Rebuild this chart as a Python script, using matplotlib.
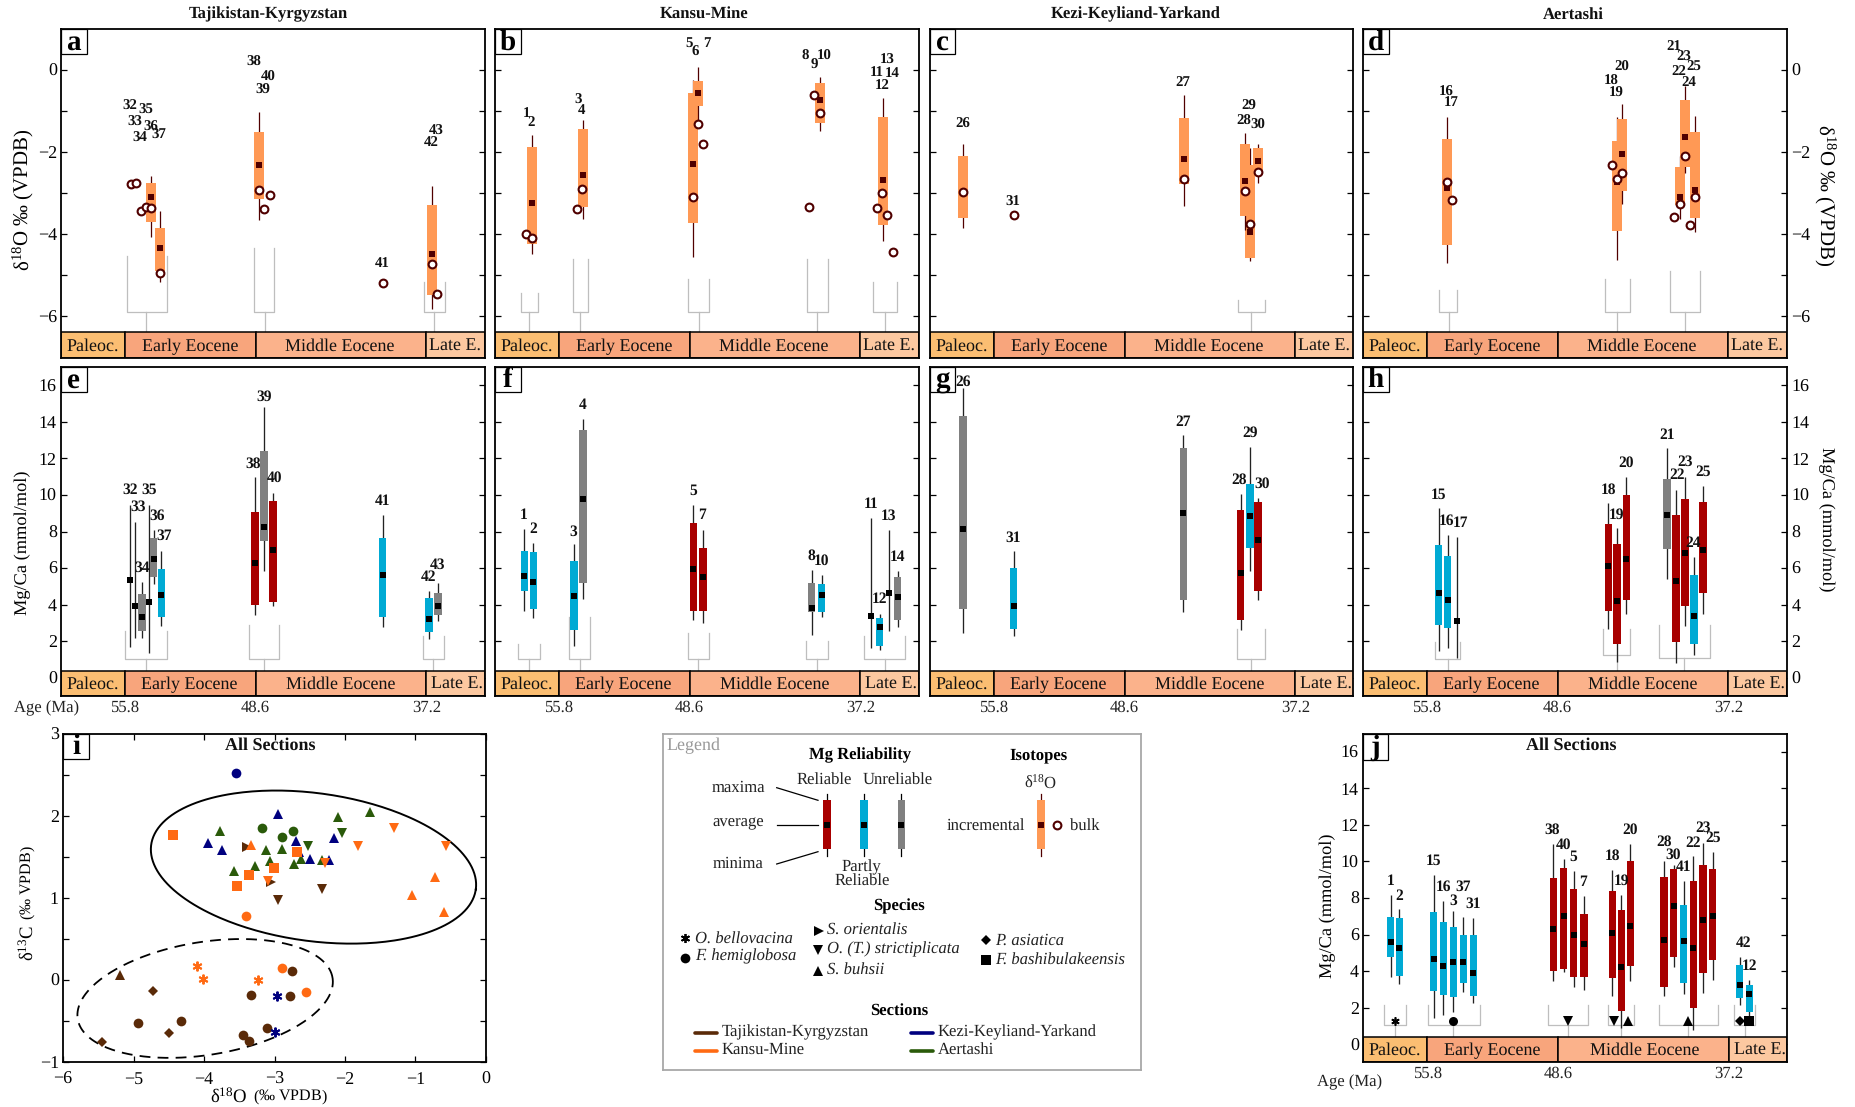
"""Eocene oyster d18O and Mg/Ca by section, d13C-d18O crossplot, all sections Mg/Ca."""
import numpy as np
import matplotlib
matplotlib.use('Agg')
import matplotlib.pyplot as plt
from matplotlib.patches import Rectangle

plt.rcParams['font.family'] = ['Liberation Serif', 'DejaVu Sans']
plt.rcParams['mathtext.fontset'] = 'custom'
plt.rcParams['mathtext.rm'] = 'Liberation Serif'
plt.rcParams['mathtext.it'] = 'Liberation Serif:italic'
plt.rcParams['mathtext.bf'] = 'Liberation Serif:bold'
plt.rcParams['text.hinting'] = 'no_hinting'

# ── data ──────────────────────────────────────────────────────────────────────
# x is the sample's place along the stratigraphic strip of its panel
# isotope rows: pos, minimum, box low, mean, box high, maximum
ISO_A = [(90, -4.08, -3.72, -3.10, -2.75, -2.59),
         (99, -5.16, -4.91, -4.34, -3.86, -3.44),
         (198, -3.65, -3.15, -2.32, -1.52, -1.03),
         (370.7, -5.83, -5.48, -4.48, -3.29, -2.83)]
ISO_B = [(36.7, -4.49, -4.25, -3.24, -1.88, -1.60),
         (87.7, -3.64, -3.35, -2.56, -1.44, -1.22),
         (197.7, -4.57, -3.74, -2.29, -0.56, -0.25),
         (202.7, -1.32, -0.88, -0.57, -0.28, 0.06),
         (325, -1.49, -1.31, -0.74, -0.33, -0.19),
         (387.7, -4.18, -3.79, -2.68, -1.15, -0.70)]
ISO_C = [(33.3, -3.85, -3.62, -2.97, -2.10, -1.82),
         (253.7, -3.33, -2.79, -2.17, -1.17, -0.62),
         (319.7, -4.65, -4.59, -3.95, -2.31, -1.91),
         (314.7, -3.91, -3.56, -2.71, -1.80, -1.54),
         (328.3, -2.76, -2.56, -2.22, -1.91, -1.82)]
ISO_D = [(84.3, -4.71, -4.27, -2.89, -1.69, -1.15),
         (254, -4.64, -3.94, -2.73, -1.74, -1.15),
         (259.3, -3.27, -2.95, -2.05, -1.20, -0.84),
         (316.7, -3.63, -3.29, -3.10, -2.38, -2.11),
         (321.7, -2.52, -2.37, -1.64, -0.74, -0.39),
         (332, -3.96, -3.62, -2.93, -1.52, -1.13)]

BULK_A = [(69.7, -2.79), (74.7, -2.755), (80, -3.44), (84.7, -3.34), (90, -3.36), (99, -4.95),
          (198, -2.94), (208.7, -3.06), (203.3, -3.40), (322.3, -5.19), (370.7, -4.72), (375.7, -5.45)]
BULK_B = [(31.3, -4.0), (36.7, -4.09), (82.3, -3.40), (87.3, -2.90), (197.7, -3.10), (202.7, -1.32),
          (207.7, -1.81), (314.3, -3.35), (319.3, -0.61), (324.7, -1.06), (382.3, -3.37),
          (387.3, -3.0), (392.3, -3.53), (397.7, -4.44)]
BULK_C = [(33.3, -2.97), (84.3, -3.55), (253.7, -2.65), (314.7, -2.95), (319.7, -3.75), (328.3, -2.50)]
BULK_D = [(84.3, -2.74), (89.3, -3.18), (249, -2.31), (254, -2.65), (259.3, -2.52), (311.3, -3.58),
          (316.7, -3.28), (321.7, -2.10), (326.7, -3.78), (332, -3.11)]

# Mg/Ca rows: pos, minimum, box low, mean, box high, maximum, reliability
# R reliable, P partly reliable, U unreliable, None for a single specimen range
MG_E = [(69, 1.69, None, 5.35, None, 9.47, None), (74, 2.15, None, 3.93, None, 8.54, None),
        (81, 2.20, 2.53, 3.31, 4.57, 5.24, 'U'), (88, 1.33, None, 4.13, None, 9.47, None),
        (92.7, 5.15, 5.52, 6.52, 7.65, 8.07, 'U'), (100.3, 2.82, 3.33, 4.50, 5.94, 6.96, 'P'),
        (194, 3.42, 3.97, 6.28, 9.09, 10.97, 'R'), (203, 5.85, 7.49, 8.23, 12.39, 14.81, 'U'),
        (212, 3.93, 4.13, 6.99, 9.65, 10.13, 'R'), (321.7, 2.75, 3.31, 5.63, 7.63, 8.93, 'P'),
        (368, 2.13, 2.51, 3.24, 4.35, 4.77, 'P'), (377, 3.08, 3.42, 3.95, 4.62, 5.17, 'U')]
MG_F = [(29.3, 3.66, 4.75, 5.55, 6.96, 8.14, 'P'), (38.3, 3.28, 3.75, 5.24, 6.87, 7.38, 'P'),
        (79, 1.74, 2.60, 4.48, 6.41, 7.29, 'P'), (88, 4.31, 5.19, 9.78, 13.56, 14.18, 'U'),
        (198.3, 3.15, 3.66, 5.97, 8.47, 9.47, 'R'), (208, 2.97, 3.66, 5.50, 7.09, 8.10, 'R'),
        (316.7, 2.35, 3.62, 3.79, 5.19, 5.92, 'U'), (326.7, 3.33, 3.62, 4.53, 5.15, 5.63, 'P'),
        (376, 1.64, None, 3.37, None, 8.74, None), (384.7, 1.54, 1.74, 2.76, 3.26, 3.51, 'P'),
        (393.7, 2.56, None, 4.66, None, 8.09, None), (402.7, 2.75, 3.17, 4.44, 5.52, 5.85, 'U')]
MG_G = [(33, 2.46, 3.75, 8.14, 14.3, 15.87, 'U'), (83.7, 2.29, 2.67, 3.90, 5.99, 6.94, 'P'),
        (253.3, 3.57, 4.24, 9.0, 12.59, 13.28, 'U'), (310.7, 2.62, 3.15, 5.74, 9.16, 10.04, 'R'),
        (320, 5.85, 7.12, 8.84, 10.62, 12.63, 'P'), (328, 4.24, 4.75, 7.56, 9.62, 9.82, 'R')]
MG_H = [(75.7, 1.45, 2.87, 4.64, 7.27, 9.27, 'P'), (84.7, 1.62, 2.73, 4.26, 6.68, 7.83, 'P'),
        (93.7, 1.07, None, 3.09, None, 7.71, None), (245.3, 2.64, 3.66, 6.10, 8.40, 9.55, 'R'),
        (254, 0.87, 1.82, 4.21, 7.32, 8.18, 'R'), (263.3, 3.49, 4.26, 6.50, 10.02, 10.99, 'R'),
        (304, 5.39, 7.03, 8.91, 10.89, 12.57, 'U'), (313, 0.80, 1.96, 5.30, 8.93, 10.29, 'R'),
        (322, 2.82, 3.91, 6.85, 9.80, 11.0, 'R'), (331, 1.22, 1.82, 3.35, 5.63, 6.59, 'P'),
        (340, 3.49, 4.61, 7.01, 9.60, 10.51, 'R')]
MG_J = [(26, 3.66, 4.75, 5.57, 6.97, 8.15, 'P'), (34.3, 3.28, 3.75, 5.26, 6.88, 7.39, 'P'),
        (66.7, 1.45, 2.89, 4.64, 7.26, 9.26, 'P'), (75.7, 1.62, 2.71, 4.26, 6.68, 7.83, 'P'),
        (85, 1.75, 2.60, 4.49, 6.42, 7.28, 'P'), (94.3, 2.84, 3.35, 4.49, 5.95, 6.97, 'P'),
        (103.7, 2.27, 2.66, 3.88, 5.97, 6.92, 'P'), (179, 3.44, 3.99, 6.28, 9.08, 10.96, 'R'),
        (188.7, 3.95, 4.13, 6.99, 9.65, 10.12, 'R'), (198.3, 3.15, 3.66, 5.99, 8.48, 9.48, 'R'),
        (208, 2.98, 3.68, 5.51, 7.10, 8.12, 'R'), (234.7, 2.64, 3.64, 6.10, 8.37, 9.54, 'R'),
        (243, 0.87, 1.80, 4.20, 7.32, 8.17, 'R'), (251.7, 3.48, 4.26, 6.48, 10.01, 10.98, 'R'),
        (283.3, 2.62, 3.13, 5.71, 9.14, 10.01, 'R'), (292.3, 4.22, 4.75, 7.55, 9.59, 9.83, 'R'),
        (301.7, 2.75, 3.33, 5.64, 7.63, 8.92, 'P'), (310.7, 0.80, 1.96, 5.28, 8.92, 10.30, 'R'),
        (320, 2.80, 3.91, 6.82, 9.79, 11.01, 'R'), (329, 3.49, 4.59, 6.99, 9.57, 10.50, 'R'),
        (354.7, 2.13, 2.51, 3.24, 4.35, 4.77, 'P'), (363.7, 1.55, 1.78, 2.77, 3.24, 3.51, 'P')]

LABELS_A = [('32', 69, -0.89), ('35', 84.7, -0.99), ('33', 74.3, -1.29), ('36', 89.7, -1.39),
            ('34', 79.3, -1.67), ('37', 98, -1.59), ('38', 192.7, 0.18), ('40', 207.7, -0.19),
            ('39', 202.3, -0.49), ('43', 375, -1.50), ('42', 370, -1.77), ('41', 321.3, -4.71)]
LABELS_B = [('1', 31.7, -1.06), ('2', 36, -1.29), ('3', 82.7, -0.74), ('4', 86.7, -0.98),
            ('5', 194, 0.64), ('6', 200.7, 0.42), ('7', 211.7, 0.65), ('8', 310.7, 0.32),
            ('9', 319, 0.11), ('10', 329, 0.33), ('13', 392, 0.23), ('11', 381.7, -0.07),
            ('14', 397.3, -0.08), ('12', 387, -0.38)]
LABELS_C = [('26', 32.7, -1.33), ('31', 83.3, -3.23), ('27', 252.7, -0.31), ('29', 319, -0.88),
            ('28', 313.7, -1.26), ('30', 327.7, -1.35)]
LABELS_D = [('16', 83.7, -0.56), ('17', 88.7, -0.79), ('20', 258.7, 0.05), ('18', 248.7, -0.28),
            ('19', 253.7, -0.58), ('21', 310.7, 0.57), ('23', 321, 0.30), ('22', 315.7, -0.03),
            ('25', 331, 0.05), ('24', 326, -0.31)]
LABELS_E = [('32', 69, 10.26), ('33', 77.3, 9.33), ('34', 81, 5.99), ('35', 87.7, 10.26),
            ('36', 95.7, 8.84), ('37', 103.3, 7.74), ('38', 192.3, 11.72), ('39', 203, 15.34),
            ('40', 213.7, 10.91), ('41', 321.3, 9.64), ('42', 367.7, 5.48), ('43', 377, 6.16)]
LABELS_F = [('1', 29, 8.87), ('2', 38.3, 8.11), ('3', 78.7, 8.0), ('4', 87.7, 14.94),
            ('5', 198.3, 10.24), ('7', 207.3, 8.87), ('8', 316.3, 6.68), ('10', 327, 6.37),
            ('11', 375.7, 9.47), ('12', 384.7, 4.28), ('13', 393.7, 8.87), ('14', 402.3, 6.57)]
LABELS_G = [('26', 33, 16.2), ('31', 83.3, 7.67), ('27', 252.7, 14.01), ('29', 320, 13.37),
            ('28', 309.3, 10.80), ('30', 332, 10.58)]
LABELS_H = [('15', 75.7, 10.02), ('16', 83, 8.58), ('17', 97.3, 8.45), ('18', 245.3, 10.29),
            ('19', 254, 8.93), ('20', 263, 11.77), ('21', 303.7, 13.28), ('22', 314.3, 11.06),
            ('23', 322, 11.82), ('24', 330.3, 7.34), ('25', 339.7, 11.26)]
LABELS_J = [('1', 25.7, 8.92), ('2', 34, 8.10), ('15', 66.7, 10.01), ('16', 76, 8.59),
            ('37', 94.3, 8.59), ('3', 85, 7.82), ('31', 103.3, 7.66), ('38', 177.7, 11.70),
            ('40', 188.7, 10.88), ('5', 198, 10.23), ('7', 207.3, 8.86), ('18', 234.7, 10.28),
            ('19', 243, 8.92), ('20', 251.3, 11.70), ('28', 283.3, 11.05), ('30', 292.3, 10.34),
            ('41', 301.3, 9.68), ('22', 310.7, 10.98), ('23', 320, 11.81), ('25', 329, 11.27),
            ('42', 358.3, 5.53), ('12', 363.3, 4.27)]

# brackets grouping samples of one level: left, right, stem, arm top, base
BRACKET_A = [(66.3, 106, 85, -4.54, -5.91), (192.7, 213.3, 203.7, -4.34, -5.91), (362.7, 383.7, 373, -5.17, -5.91)]
BRACKET_B = [(26.3, 42.7, 34.3, -5.43, -5.91), (78, 92.7, 85, -4.60, -5.91), (193.3, 214.3, 203.7, -5.10, -5.91),
             (312.3, 332.7, 322.3, -4.60, -5.91), (378, 402.3, 390, -5.17, -5.91)]
BRACKET_C = [(308, 334.7, 321.3, -5.62, -5.91)]
BRACKET_D = [(75.7, 93.7, 85.7, -5.36, -5.91), (241.7, 266.7, 254.3, -5.10, -5.91), (307, 337, 322, -4.89, -5.91)]
BRACKET_E = [(64.3, 106.3, 84.7, 2.53, 1.02), (188.3, 218, 203, 2.86, 1.02), (362, 383.3, 372.3, 2.31, 1.02)]
BRACKET_F = [(23.3, 44.7, 34, 1.87, 1.02), (74.3, 95.3, 84.7, 3.31, 1.02), (192.7, 213.7, 203.3, 2.42, 1.02),
             (311, 332.7, 322, 2.0, 1.02), (369, 410.3, 389.7, 2.31, 1.02)]
BRACKET_G = [(307, 334.7, 320.7, 2.64, 1.02)]
BRACKET_H = [(72.3, 97.3, 84.7, 1.98, 1.02), (240.3, 267.3, 254, 2.69, 1.25), (295.7, 347, 321, 2.86, 1.07)]
BRACKET_J = [(20, 40, 30, 2.15, 1.05), (60.7, 109.7, 85, 2.15, 1.05), (174.3, 211.3, 193, 2.15, 1.05),
             (230.3, 255.3, 243, 2.15, 1.05), (278.3, 333.7, 306.3, 2.15, 1.05), (349, 369.3, 359.3, 2.15, 1.05)]
SPECIES_J = [(30, '*'), (85, 'o'), (193, 'v'), (236, 'v'), (249, '^'), (306.3, '^'), (354.7, 'D'), (363.7, 's')]

EPOCHS = ['Paleoc.', 'Early Eocene', 'Middle Eocene', 'Late E.']
EPOCH_EDGES = [0, 64, 194.7, 365.3, 424]
EPOCH_EDGES_J = [0, 60.3, 183.7, 344, 399]
EPOCH_TEXT_TOP = [32, 129, 279, 394]
EPOCH_TEXT_MG = [32, 128, 280, 396]
EPOCH_TEXT_J = [30, 121.3, 264.7, 374]
AGES = ['55.8', '48.6', '37.2']

# crossplot i: d18O, d13C per section
TK_CIRCLE = [(-2.75, 0.11), (-3.34, -0.18), (-2.78, -0.20), (-4.94, -0.52), (-4.33, -0.50), (-3.10, -0.58),
             (-3.44, -0.67), (-3.36, -0.74)]
TK_DIAMOND = [(-4.72, -0.14), (-4.49, -0.65), (-5.45, -0.75)]
TK_RIGHT = [(-3.39, 1.62), (-3.05, 1.19)]
TK_DOWN = [(-2.95, 0.98), (-2.33, 1.11)]
TK_UP = [(-5.19, 0.06)]
KM_SQUARE = [(-4.44, 1.77), (-3.53, 1.15), (-3.36, 1.28), (-3.01, 1.36), (-2.68, 1.56)]
KM_UP = [(-3.34, 1.65), (-1.05, 1.04), (-0.73, 1.26), (-0.60, 0.83)]
KM_DOWN = [(-3.09, 1.21), (-2.28, 1.43), (-1.81, 1.63), (-1.31, 1.85), (-0.57, 1.63)]
KM_CIRCLE = [(-3.40, 0.78), (-2.90, 0.15), (-2.56, -0.15)]
KM_STAR = [(-4.10, 0.17), (-4.01, 0.01), (-3.24, 0.0)]
KK_CIRCLE = [(-3.55, 2.53)]
KK_UP = [(-3.95, 1.67), (-3.75, 1.58), (-2.95, 2.02), (-2.70, 1.69), (-2.65, 1.56), (-2.50, 1.47), (-2.23, 1.46),
         (-2.15, 1.73)]
KK_STAR = [(-2.97, -0.19), (-3.0, -0.63)]
AE_UP = [(-3.78, 1.82), (-3.58, 1.33), (-3.28, 1.39), (-3.12, 1.59), (-3.07, 1.45), (-2.90, 1.60), (-2.73, 1.42),
         (-2.63, 1.48), (-2.32, 1.46), (-2.10, 1.99), (-1.64, 2.05)]
AE_CIRCLE = [(-3.18, 1.85), (-2.89, 1.74), (-2.74, 1.82)]
AE_DOWN = [(-2.52, 1.64), (-2.04, 1.79)]

# ── style ─────────────────────────────────────────────────────────────────────
W, H = 1855, 1107
ORANGE_BAR = '#FF9955'
MAROON = '#500000'
REL_COLORS = {'R': '#A80000', 'P': '#00AAD4', 'U': '#808080'}
EPOCH_COLORS = ['#FBBE72', '#F8A57C', '#FBB28B', '#FCC8A0']
BROWN, ORANGE, NAVY, GREEN = '#5A2A08', '#FF6A13', '#00007F', '#2A5A0A'
BRACKET_GREY = '#BEBEBE'
BASE_FS = 13

fig = plt.figure(figsize=(W / 100, H / 100), dpi=100)


def ftext(px, py, s, **kw):
    kw.setdefault('ha', 'center')
    kw.setdefault('va', 'center')
    kw.setdefault('fontsize', BASE_FS)
    fig.text(px / W, 1 - py / H, s, **kw)


def make_axes(left, right, top, bottom, ylim, xlim=None):
    ax = fig.add_axes([left / W, 1 - bottom / H, (right - left) / W, (bottom - top) / H])
    ax.set_xlim(xlim if xlim else (0, right - left))
    ax.set_ylim(*ylim)
    for s in ax.spines.values():
        s.set_linewidth(1.3)
        s.set_zorder(6)
    ax.tick_params(direction='in', length=4.5, width=0.9, left=True, right=True, labelsize=BASE_FS, pad=3)
    ax.set_xticks([])
    return ax


def panel_letter(ax, letter, box_w, box_h):
    ax.add_patch(Rectangle((0, 1 - box_h), box_w, box_h, transform=ax.transAxes, fc='white', ec='black',
                           lw=0.9, zorder=7))
    ax.text(box_w / 2, 1 - box_h / 2 - 0.003, letter, transform=ax.transAxes, ha='center', va='center',
            fontsize=21, fontweight='bold', zorder=8)


def epoch_strip(ax, edges, centers, strip_top, strip_bottom):
    for i, name in enumerate(EPOCHS):
        ax.add_patch(Rectangle((edges[i], strip_bottom), edges[i + 1] - edges[i], strip_top - strip_bottom,
                               fc=EPOCH_COLORS[i], ec='black', lw=1.1, zorder=4))
        ax.annotate(name, (centers[i], (strip_top + strip_bottom) / 2), xytext=(0, -1), textcoords='offset points',
                    ha='center', va='center', fontsize=BASE_FS, zorder=5, color='#111111')


def brackets(ax, rows, stem_bottom):
    for l, r, stem, arm, base in rows:
        ax.plot([l, l, r, r], [arm, base, base, arm], color=BRACKET_GREY, lw=0.9, zorder=1)
        ax.plot([stem, stem], [base, stem_bottom], color=BRACKET_GREY, lw=0.9, zorder=1)


def sample_labels(ax, rows, fs):
    for s, x, y in rows:
        ax.text(x, y, s, ha='center', va='center', fontsize=fs, fontweight='bold', zorder=5, color='#111111')


def iso_panel(ax, rows, bulk, labels):
    z = 2
    for pos, lo, blo, mean, bhi, hi in rows:
        ax.vlines(pos, lo, hi, color=MAROON, lw=0.9, zorder=z)
        ax.bar(pos, bhi - blo, bottom=blo, width=10.3, color=ORANGE_BAR, zorder=z + 0.1)
        z += 0.2
    ax.plot([r[0] for r in rows], [r[3] for r in rows], 's', color=MAROON, ms=4.7, mew=0, zorder=3.5)
    ax.plot([b[0] for b in bulk], [b[1] for b in bulk], 'o', mfc='white', mec=MAROON, mew=1.5, ms=5.6, zorder=3.6)
    sample_labels(ax, labels, 10.7)


def mg_panel(ax, rows, labels, width=7.2, fs=11.2):
    z = 2
    for pos, lo, blo, mean, bhi, hi, rel in rows:
        ax.vlines(pos, lo, hi, color='#222222', lw=0.95, zorder=z)
        if rel is not None:
            ax.bar(pos, bhi - blo, bottom=blo, width=width, color=REL_COLORS[rel], zorder=z + 0.1)
        z += 0.05
    ax.plot([r[0] for r in rows], [r[3] for r in rows], 's', color='black', ms=4.7, mew=0, zorder=3.5)
    sample_labels(ax, labels, fs)


# ── panels a-h ────────────────────────────────────────────────────────────────
COLS = [(61, 485), (495, 919), (930, 1353), (1363, 1787)]
ISO_ROWS = [(ISO_A, BULK_A, LABELS_A, BRACKET_A, 'a'), (ISO_B, BULK_B, LABELS_B, BRACKET_B, 'b'),
            (ISO_C, BULK_C, LABELS_C, BRACKET_C, 'c'), (ISO_D, BULK_D, LABELS_D, BRACKET_D, 'd')]
MG_ROWS = [(MG_E, LABELS_E, BRACKET_E, 'e'), (MG_F, LABELS_F, BRACKET_F, 'f'),
           (MG_G, LABELS_G, BRACKET_G, 'g'), (MG_H, LABELS_H, BRACKET_H, 'h')]
TITLES = [('Tajikistan-Kyrgyzstan', 268), ('Kansu-Mine', 703.7), ('Kezi-Keyliand-Yarkand', 1136), ('Aertashi', 1573)]

for i, (left, right) in enumerate(COLS):
    rows, bulk, labels, brk, letter = ISO_ROWS[i]
    ax = make_axes(left, right, 29, 358, (-7.02, 0.99))
    yt = [0, -1, -2, -3, -4, -5, -6]
    ax.set_yticks(yt)
    ax.set_yticklabels([f'{v:d}'.replace('-', '\u2212') if v % 2 == 0 else '' for v in yt])
    ax.tick_params(labelleft=(i == 0), labelright=(i == 3))
    brackets(ax, brk, -6.39)
    iso_panel(ax, rows, bulk, labels)
    epoch_strip(ax, EPOCH_EDGES, EPOCH_TEXT_TOP, -6.39, -7.02)
    panel_letter(ax, letter, 25.5 / (right - left), 25 / 329)
    ftext(TITLES[i][1], 14.7, TITLES[i][0], fontsize=12, fontweight='bold', color='#111111')

    rows, labels, brk, letter = MG_ROWS[i]
    ax = make_axes(left, right, 367, 696, (-1, 17))
    yt = list(range(0, 17, 2))
    ax.set_yticks(yt)
    ax.set_yticklabels([str(v) for v in yt])
    ax.tick_params(labelleft=(i == 0), labelright=(i == 3))
    brackets(ax, brk, 0.38)
    mg_panel(ax, rows, labels)
    epoch_strip(ax, EPOCH_EDGES, EPOCH_TEXT_MG, 0.38, -1)
    panel_letter(ax, letter, 25.5 / (right - left), 25 / 329)
    for age, e in zip(AGES, EPOCH_EDGES[1:4]):
        ftext(left + e, 708, age, fontsize=12, color='#222222')

D18O_LABEL = '\u03b4$^{18}$O $\\mathit{\u2030}$ (VPDB)'
MGCA_LABEL = 'Mg/Ca (mmol/mol)'
ftext(47, 708, 'Age (Ma)', fontsize=12, color='#222222')
ftext(23, 200, D18O_LABEL, rotation=90, fontsize=15)
ftext(1825, 195, D18O_LABEL, rotation=270, fontsize=15)
ftext(23, 543, MGCA_LABEL, rotation=90, fontsize=13.2)
ftext(1826, 519, MGCA_LABEL, rotation=270, fontsize=13.2)

# ── panel i ───────────────────────────────────────────────────────────────────
ax = make_axes(63, 486, 734, 1062, (-1, 3), xlim=(-6, 0))
ax.set_xticks(range(-6, 1))
ax.set_xticklabels(['\u22126', '\u22125', '\u22124', '\u22123', '\u22122', '\u22121', '0'])
ax.set_yticks(np.arange(-1, 3.01, 0.5))
ax.set_yticklabels(['\u22121', '', '0', '', '1', '', '2', '', '3'])
ax.tick_params(top=True, bottom=True)
ax.tick_params(axis='x', pad=6.5)

PX_X, PX_Y = 70.57, 82.08  # pixels per data unit, for ellipses that tilt on screen


def ellipse(ax, cx, cy, a, b, deg, **kw):
    t = np.linspace(0, 2 * np.pi, 300)
    th = np.radians(deg)
    ax.plot(cx + (a * np.cos(t) * np.cos(th) - b * np.sin(t) * np.sin(th)) / PX_X,
            cy + (a * np.cos(t) * np.sin(th) + b * np.sin(t) * np.cos(th)) / PX_Y, color='black', zorder=2, **kw)


ellipse(ax, -2.447, 1.377, 164, 74, -7.8, lw=1.4)
ellipse(ax, -3.984, -0.225, 129.2, 56.5, 9.2, lw=1.3, ls=(0, (6, 4)))

SCATTER = [(TK_CIRCLE, 'o', BROWN), (TK_DIAMOND, 'D', BROWN), (TK_RIGHT, '>', BROWN), (TK_DOWN, 'v', BROWN),
           (TK_UP, '^', BROWN), (AE_UP, '^', GREEN), (AE_CIRCLE, 'o', GREEN), (AE_DOWN, 'v', GREEN),
           (KK_CIRCLE, 'o', NAVY), (KK_UP, '^', NAVY), (KK_STAR, '*', NAVY), (KM_SQUARE, 's', ORANGE),
           (KM_UP, '^', ORANGE), (KM_DOWN, 'v', ORANGE), (KM_CIRCLE, 'o', ORANGE), (KM_STAR, '*', ORANGE)]
MS = {'o': 7, 'D': 5.2, '>': 6.8, 'v': 6.8, '^': 6.8, 's': 6.8, '*': 8}
for pts, m, c in SCATTER:
    if m == '*':
        # six-armed asterisk as in the original symbol set
        ax.plot([p[0] for p in pts], [p[1] for p in pts], ls='none', marker=(6, 2, 0), mec=c, mew=1.4, ms=7, zorder=3)
    else:
        ax.plot([p[0] for p in pts], [p[1] for p in pts], ls='none', marker=m, color=c, mew=0, ms=MS[m], zorder=3)
panel_letter(ax, 'i', 26 / 423, 25 / 328)
ftext(270, 746, 'All Sections', fontsize=13, fontweight='bold', color='#111111')
ftext(229, 1097, '\u03b4$^{18}$O', fontsize=13.5)
ftext(290, 1097, '($\\mathit{\u2030}$ VPDB)', fontsize=11.5)
ftext(28, 943, '\u03b4$^{13}$C', fontsize=13.5, rotation=90)
ftext(28, 883, '($\\mathit{\u2030}$ VPDB)', fontsize=11.5, rotation=90)

# ── panel j: same frame width as column d, positions kept on their own 0-399 strip ──
J_LEFT, J_RIGHT = 1363, 1787
ax = make_axes(J_LEFT, J_RIGHT, 734, 1062, (-0.97, 16.97), xlim=(0, 399))
yt = list(range(0, 17, 2))
ax.set_yticks(yt)
ax.set_yticklabels([str(v) for v in yt])
brackets(ax, BRACKET_J, 0.40)
mg_panel(ax, MG_J, LABELS_J, width=6.7)
for x, m in SPECIES_J:
    if m == '*':
        ax.plot(x, 1.29, marker=(6, 2, 0), color='black', mew=1.2, ms=6, zorder=4)
    else:
        ax.plot(x, 1.29, marker=m, color='black', mew=0, ms=5 if m == 'D' else 6.5, zorder=4)
epoch_strip(ax, EPOCH_EDGES_J, EPOCH_TEXT_J, 0.40, -0.97)
panel_letter(ax, 'j', 25 / 424, 26 / 328)
ftext(1571, 746, 'All Sections', fontsize=13, fontweight='bold', color='#111111')
for age, e in zip(AGES, EPOCH_EDGES_J[1:4]):
    ftext(J_LEFT + e * (J_RIGHT - J_LEFT) / 399, 1074, age, fontsize=12, color='#222222')
ftext(1350, 1082, 'Age (Ma)', fontsize=12, color='#222222')
ftext(1328, 906, MGCA_LABEL, rotation=90, fontsize=13.2)

# ── legend box, laid out in its own pixel grid ────────────────────────────────
lg = make_axes(663, 1141, 734, 1070, (336, 0))
lg.set_yticks([])
lg.tick_params(left=False, right=False)
for s in lg.spines.values():
    s.set_color('#A8A8A8')


def ltext(x, y, s, **kw):
    kw.setdefault('ha', 'center')
    kw.setdefault('va', 'center')
    kw.setdefault('fontsize', 12)
    kw.setdefault('color', '#222222')
    lg.text(x, y, s, **kw)


ltext(30, 11.5, 'Legend', color='#999999', fontsize=13)
for x, y, s in [(196.7, 21.3, 'Mg Reliability'), (375.3, 21.3, 'Isotopes'), (235.7, 172.3, 'Species'),
                (236, 276.3, 'Sections')]:
    ltext(x, y, s, fontweight='bold', fontsize=12, color='black')
for x, y, s in [(161.7, 45.3, 'Reliable'), (235, 45.3, 'Unreliable'), (377.3, 49, '\u03b4$^{18}$O'),
                (75.7, 53.7, 'maxima'), (75.3, 88, 'average'), (75.3, 129.7, 'minima'),
                (323.3, 91.7, 'incremental'), (421.7, 91.7, 'bulk'), (198.7, 133.3, 'Partly'),
                (199.3, 146.3, 'Reliable')]:
    ltext(x, y, s)
for xs, ys in [((113.7, 155), (53.7, 66.3)), ((113.7, 155), (90.7, 90.7)), ((113.7, 155), (130, 117.7))]:
    lg.plot(xs, ys, color='black', lw=0.9)
for x, c, wc, mc in [(164, REL_COLORS['R'], 'black', 'black'), (201, REL_COLORS['P'], 'black', 'black'),
                     (238.3, REL_COLORS['U'], 'black', 'black'), (378, ORANGE_BAR, MAROON, MAROON)]:
    lg.plot([x, x], [59.7, 122], color=wc, lw=0.9, zorder=2)
    lg.add_patch(Rectangle((x - 3.6, 66.3), 7.2, 48.4, fc=c, ec='none', zorder=3))
    lg.plot(x, 90.7, 's', color=mc, ms=4.7, mew=0, zorder=4)
lg.plot(393.7, 90.7, 'o', mfc='white', mec=MAROON, mew=1.5, ms=5.6)

for mx, my, m, tx, ty, s in [(22.3, 204.3, (6, 2, 0), 31.7, 205.3, 'O. bellovacina'),
                             (22.3, 223.7, 'o', 32.3, 222.3, 'F. hemiglobosa'),
                             (155.7, 197.3, '>', 163.7, 197, 'S. orientalis'),
                             (155, 216.3, 'v', 163.7, 215.3, 'O. (T.) strictiplicata'),
                             (154.7, 237, '^', 163.7, 237, 'S. buhsii'),
                             (322.7, 206.3, 'D', 332.3, 207, 'P. asiatica'),
                             (322.7, 226.3, 's', 332.3, 227, 'F. bashibulakeensis')]:
    if isinstance(m, tuple):
        lg.plot(mx, my, marker=m, color='black', mew=1.3, ms=6.5)
    else:
        lg.plot(mx, my, marker=m, color='black', mew=0, ms=5.5 if m == 'D' else 7)
    ltext(tx, ty, s, ha='left', style='italic')

for x0, y, c, s in [(32.3, 299, BROWN, 'Tajikistan-Kyrgyzstan'), (32.3, 316.7, ORANGE, 'Kansu-Mine'),
                    (248.3, 299, NAVY, 'Kezi-Keyliand-Yarkand'), (248.3, 316.7, GREEN, 'Aertashi')]:
    lg.plot([x0, x0 + 22], [y, y], color=c, lw=2.6, solid_capstyle='round')
    ltext(x0 + 26.7, y - 0.5, s, ha='left')

fig.savefig('out.png', dpi=100)
